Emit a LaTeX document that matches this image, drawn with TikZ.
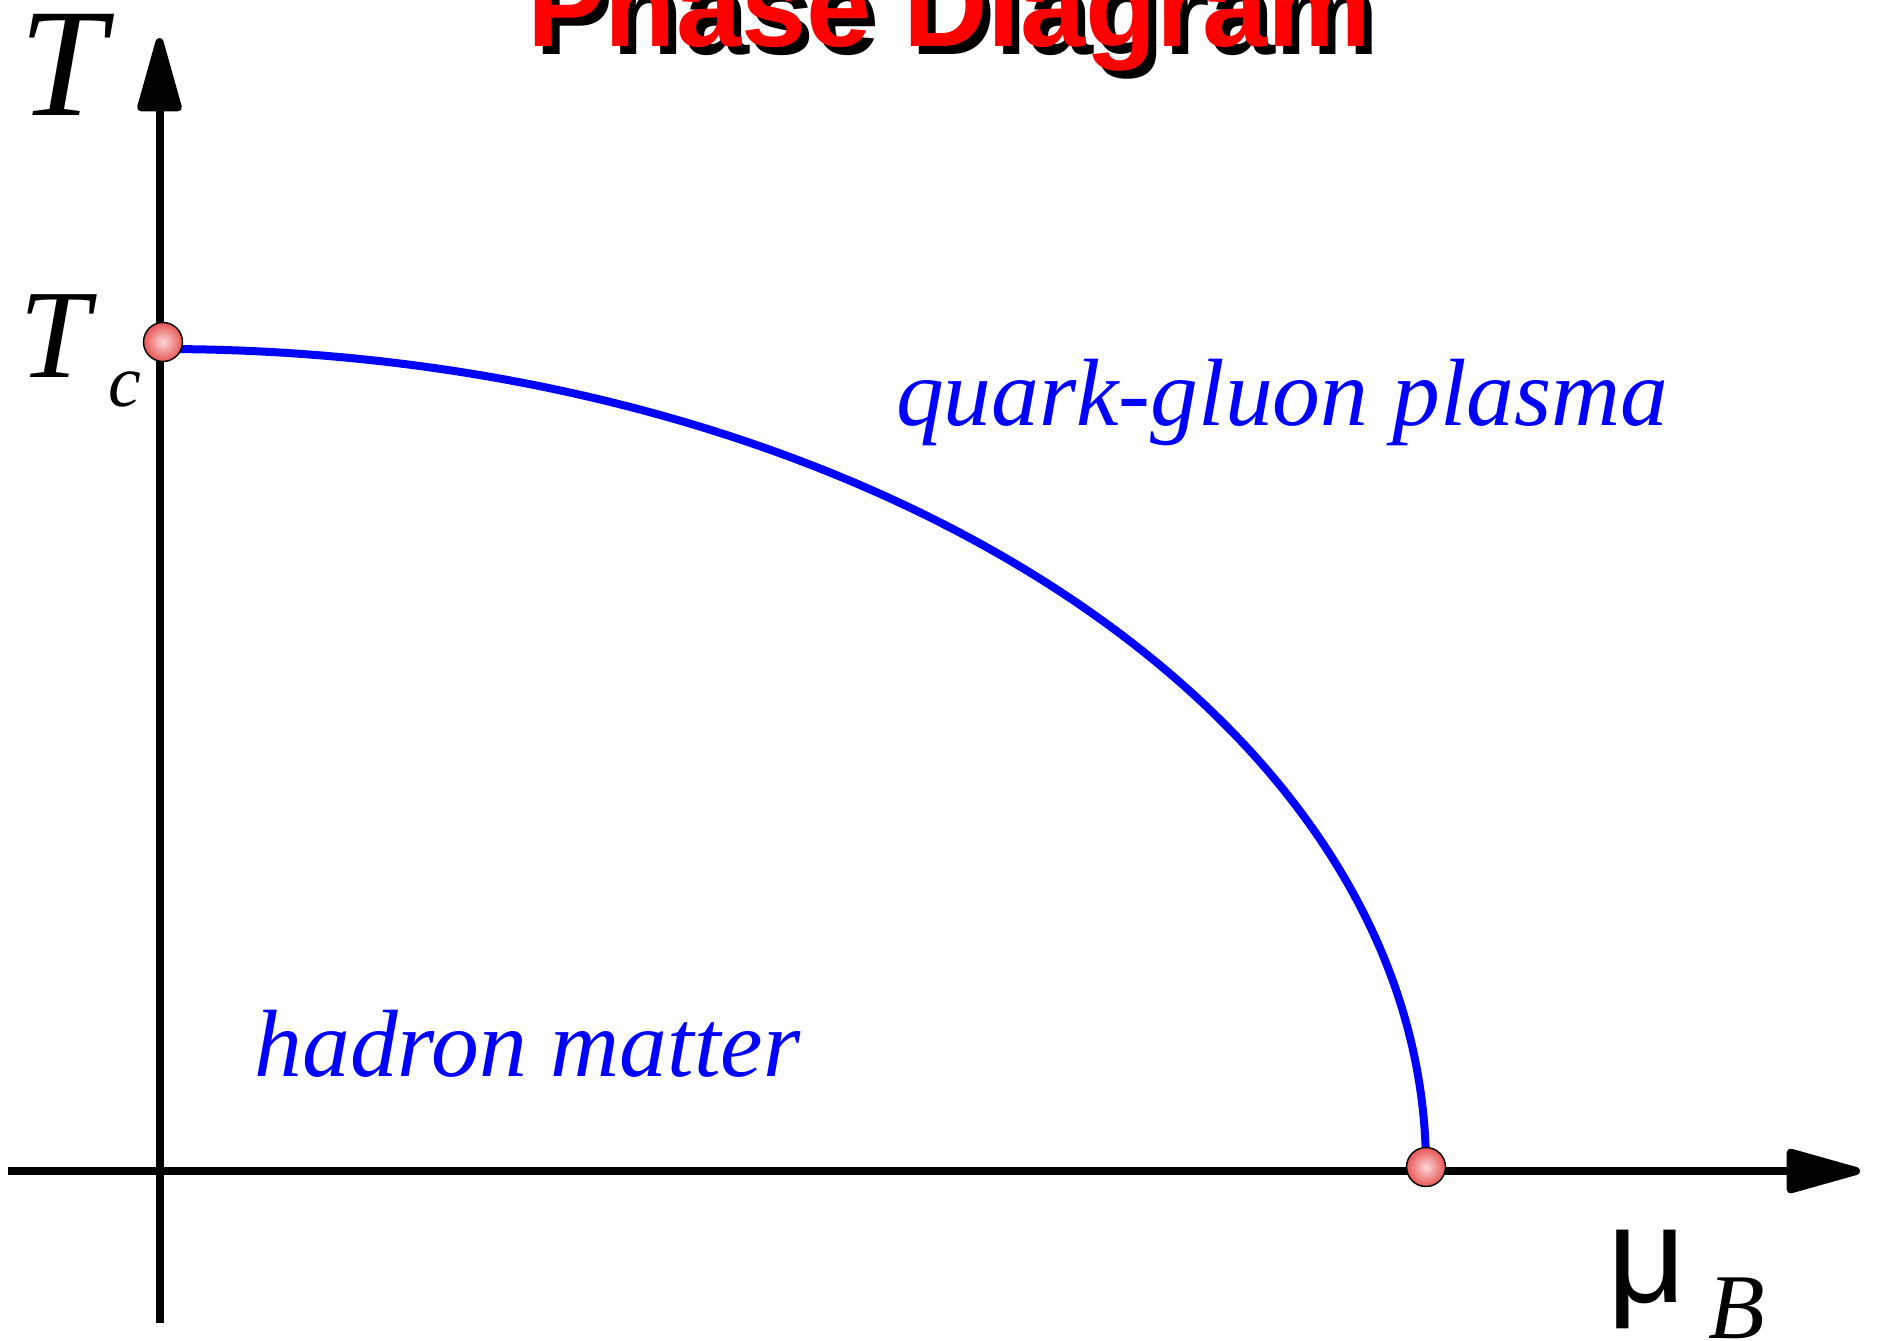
\documentclass[tikz,border=0pt]{standalone}
\usepackage{fontspec}
\setmainfont{Liberation Serif}
\newfontfamily\arialfont{Liberation Sans}
\usetikzlibrary{arrows.meta}
\definecolor{dotout}{RGB}{232,85,85}
\definecolor{dotin}{RGB}{252,215,215}
\begin{document}
\begin{tikzpicture}[x=0.02cm,y=-0.02cm,
  axis/.style={line width=0.16cm, -{Triangle[length=1.7cm,width=0.9cm,round]}},
  phase/.style={blue, line width=0.16cm},
  lbl/.style={inner sep=0pt, outer sep=0pt, anchor=base west},
  region/.style={lbl, text=blue, font=\fontsize{54.4}{60}\selectfont\itshape},
  titlefont/.style={lbl, font=\arialfont\bfseries\fontsize{66.5}{67}\selectfont},
  critdot/.style={circle, draw=black, line width=0.8pt, minimum size=0.78cm, inner sep=0pt,
    shading=radial, inner color=dotin, outer color=dotout}]
\useasboundingbox (0,0) rectangle (1879,1340);
\clip (0,0) rectangle (1879,1340);

% axes
\coordinate (ybot) at (159.5,1323);
\coordinate (ytop) at (159.5,38);
\coordinate (xleft) at (8,1171);
\coordinate (xright) at (1860,1171);
\draw[axis] (ybot) -- (ytop);
\draw[axis] (xleft) -- (xright);

% phase boundary
\coordinate (cstart) at (162,349);
\coordinate (cend) at (1426,1168);
\draw[phase] (cstart) .. controls +(699,0) and +(0,-452) .. (cend);

% critical points
\node[critdot] (tcdot) at (163,342) {};
\node[critdot] (mudot) at (1426,1167) {};

% labels
\node[lbl, font=\fontsize{88}{88}\selectfont\itshape] (Tlab) at (19,115) {T};
\node[lbl, font=\fontsize{72}{72}\selectfont\itshape] (Tclab) at (19.5,377) {T};
\node[lbl, font=\fontsize{42}{42}\selectfont\itshape] (clab) at (108,406) {c};
\node[region] (qgp) at (896,425) {quark-gluon plasma};
\node[region] (hm) at (254.5,1076) {hadron matter};
\node[lbl, font=\arialfont\fontsize{78}{78}\selectfont] (mulab) at (1607,1302) {μ};
\node[lbl, font=\fontsize{52.7}{52.7}\selectfont\itshape] (Blab) at (1708,1338) {B};

% title with shadow
\node[titlefont, text=black] (titleshadow) at (535,54) {Phase Diagram};
\node[titlefont, text=red] (title) at (527,46) {Phase Diagram};
\end{tikzpicture}
\end{document}
